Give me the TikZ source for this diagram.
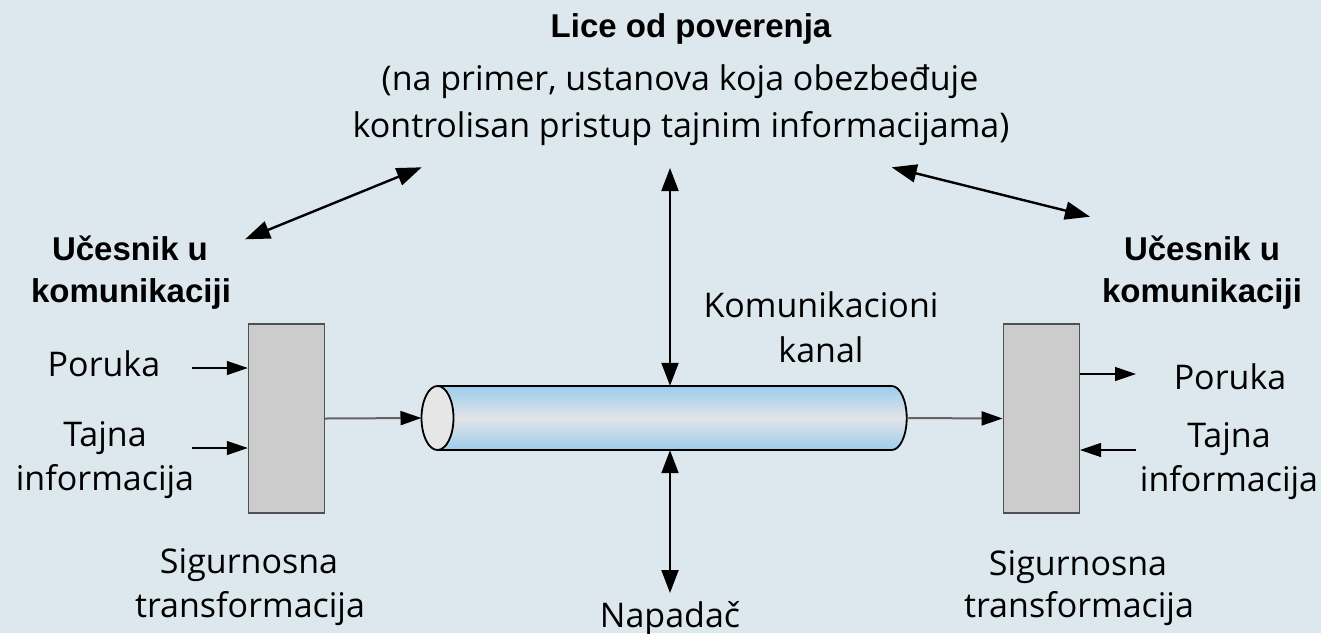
\documentclass[tikz,border=0pt]{standalone}
\usepackage{fontspec}
\setmainfont{Open Sans}
\newfontfamily\boldfam{Liberation Sans}
\usetikzlibrary{arrows.meta}
\definecolor{bg}{RGB}{221,232,238}
\definecolor{boxfill}{RGB}{204,204,204}
\definecolor{boxdraw}{RGB}{80,80,80}
\definecolor{cylblue}{RGB}{156,204,236}
\definecolor{cylmid}{RGB}{226,229,231}
\definecolor{endgray}{RGB}{230,230,230}
\definecolor{linkgray}{RGB}{100,100,100}
\tikzset{
  reg/.style={font=\fontsize{34}{40}\selectfont, anchor=base, inner sep=0pt},
  bld/.style={font=\boldfam\bfseries\fontsize{33}{40}\selectfont, anchor=base, inner sep=0pt},
  stbox/.style={draw=boxdraw, fill=boxfill, line width=1.4pt, minimum width=76pt, minimum height=189pt, inner sep=0pt},
  small/.style={line width=1.3pt, -{Triangle[length=21pt,width=14pt]}},
  link/.style={draw=linkgray, line width=2pt, -{Triangle[length=21pt,width=14pt,fill=black,color=black]}},
  big/.style={line width=2.4pt, {Triangle[length=25pt,width=18pt]}-{Triangle[length=25pt,width=18pt]}},
  vert/.style={line width=2pt, {Triangle[length=23pt,width=17pt]}-{Triangle[length=23pt,width=17pt]}}
}
\begin{document}
\begin{tikzpicture}[x=1pt,y=-1pt]
\useasboundingbox (0,0) rectangle (1321,633);
\fill[bg] (0,0) rectangle (1321,633);

% texts
\node[bld] (t1) at (691,37) {Lice od poverenja};
\node[reg] (t2) at (680,90) {(na primer, ustanova koja obezbeđuje};
\node[reg] (t3) at (681,137) {kontrolisan pristup tajnim informacijama)};
\node[bld] (lu1) at (130,260) {Učesnik u};
\node[bld] (lu2) at (131,302) {komunikaciji};
\node[bld] (ru1) at (1202,260) {Učesnik u};
\node[bld] (ru2) at (1202,302) {komunikaciji};
\node[reg] (lpor) at (104,376) {Poruka};
\node[reg] (ltaj) at (105,446) {Tajna};
\node[reg] (linf) at (105,490) {informacija};
\node[reg] (rpor) at (1230,389) {Poruka};
\node[reg] (rtaj) at (1229,447) {Tajna};
\node[reg] (rinf) at (1229,491) {informacija};
\node[reg] (kom1) at (821,317) {Komunikacioni};
\node[reg] (kom2) at (821,362) {kanal};
\node[reg] (lsig) at (249,573) {Sigurnosna};
\node[reg] (ltr) at (250,617) {transformacija};
\node[reg] (rsig) at (1078,575) {Sigurnosna};
\node[reg] (rtr) at (1079,617) {transformacija};
\node[reg] (nap) at (670,627) {Napadač};

% boxes
\node[stbox] (lbox) at (286.5,418.5) {};
\node[stbox] (rbox) at (1041.3,418.5) {};

% cylinder
\shade[top color=cylblue, bottom color=cylblue, middle color=cylmid]
  (437.5,386) -- (891.7,386) arc[start angle=-90,end angle=90,x radius=15,y radius=32] -- (437.5,450) -- cycle;
\draw[line width=1.8pt] (437.5,386) -- (891.7,386) arc[start angle=-90,end angle=90,x radius=15,y radius=32] -- (437.5,450);
\draw[line width=1.8pt, fill=endgray] (437.5,418) ellipse[x radius=16, y radius=32];
\node[minimum width=485pt, minimum height=64pt, inner sep=0pt] (cyl) at (664.2,418) {};

% coordinates
\coordinate (lpin) at (192,368);
\coordinate (ltin) at (192,448);
\coordinate (rpout) at (1136,374);
\coordinate (rtin) at (1136,450);
\coordinate (la) at (245,239.3);
\coordinate (lb) at (421.7,167.3);
\coordinate (ra) at (891.7,167.3);
\coordinate (rb) at (1090,216.7);
\coordinate (top) at (670,168);
\coordinate (bot) at (670,593);

% connectors
\draw[small] (lpin) -- (lpin -| lbox.west);
\draw[small] (ltin) -- (ltin -| lbox.west);
\draw[link] (lbox.east) -- (cyl.west);
\draw[link] (cyl.east) -- (rbox.west);
\draw[small] (rpout -| rbox.east) -- (rpout);
\draw[small] (rtin) -- (rtin -| rbox.east);
\draw[big] (la) -- (lb);
\draw[big] (ra) -- (rb);
\draw[vert] (top) -- (top |- cyl.north);
\draw[vert] (bot |- cyl.south) -- (bot);
\end{tikzpicture}
\end{document}
